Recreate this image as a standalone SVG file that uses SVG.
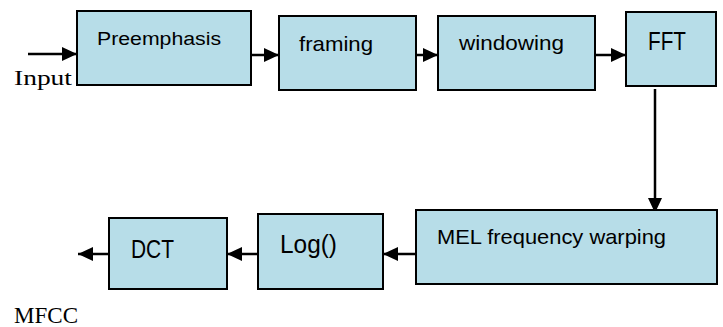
<svg xmlns="http://www.w3.org/2000/svg" width="723" height="327" viewBox="0 0 723 327">
<style>
.box{fill:#b7dde8;stroke:#000;stroke-width:2}
.lbl{font-family:"Liberation Sans",Arial,sans-serif;fill:#000}
.ser{font-family:"Liberation Serif","Times New Roman",serif;fill:#000}
.con{stroke:#000;stroke-width:2.5;fill:none;marker-end:url(#ah)}
</style>
<defs>
<marker id="ah" markerUnits="userSpaceOnUse" markerWidth="16" markerHeight="14" refX="15" refY="7" orient="auto">
<path d="M0,0 L15,7 L0,14 Z" fill="#000"/>
</marker>
</defs>
<rect width="723" height="327" fill="#fff"/>
<g id="connectors">
<line class="con" x1="28" y1="54" x2="77" y2="54"/>
<line class="con" x1="252" y1="55" x2="279" y2="55"/>
<line class="con" x1="416" y1="55" x2="438" y2="55"/>
<line class="con" x1="595" y1="55" x2="626" y2="55"/>
<line class="con" x1="655" y1="89" x2="655" y2="213"/>
<line class="con" x1="416" y1="254" x2="383" y2="254"/>
<line class="con" x1="258" y1="254" x2="227" y2="254"/>
<line class="con" x1="109" y1="254" x2="78" y2="254"/>
</g>
<g id="preemphasis">
<rect class="box" x="77" y="11" width="174" height="74"/>
<text class="lbl" x="97" y="45" font-size="18" textLength="124" lengthAdjust="spacingAndGlyphs">Preemphasis</text>
</g>
<g id="framing">
<rect class="box" x="279" y="16" width="137" height="74"/>
<text class="lbl" x="299" y="51" font-size="21" textLength="74" lengthAdjust="spacingAndGlyphs">framing</text>
</g>
<g id="windowing">
<rect class="box" x="438" y="16" width="157" height="74"/>
<text class="lbl" x="459" y="50" font-size="20" textLength="105" lengthAdjust="spacingAndGlyphs">windowing</text>
</g>
<g id="fft">
<rect class="box" x="626" y="12" width="90" height="74"/>
<text class="lbl" x="648" y="50" font-size="25" textLength="38" lengthAdjust="spacingAndGlyphs">FFT</text>
</g>
<g id="mel">
<rect class="box" x="416" y="210" width="301" height="74"/>
<text class="lbl" x="437" y="244" font-size="21" textLength="229" lengthAdjust="spacingAndGlyphs">MEL frequency warping</text>
</g>
<g id="log">
<rect class="box" x="258" y="214" width="125" height="75"/>
<text class="lbl" x="280" y="253" font-size="25" textLength="57" lengthAdjust="spacingAndGlyphs">Log()</text>
</g>
<g id="dct">
<rect class="box" x="109" y="218" width="118" height="71"/>
<text class="lbl" x="131" y="258" font-size="25" textLength="43" lengthAdjust="spacingAndGlyphs">DCT</text>
</g>
<g id="input">
<text class="ser" x="14" y="85" font-size="22" textLength="58" lengthAdjust="spacingAndGlyphs">Input</text>
</g>
<g id="mfcc">
<text class="ser" x="14" y="323" font-size="23" textLength="64" lengthAdjust="spacingAndGlyphs">MFCC</text>
</g>
</svg>
